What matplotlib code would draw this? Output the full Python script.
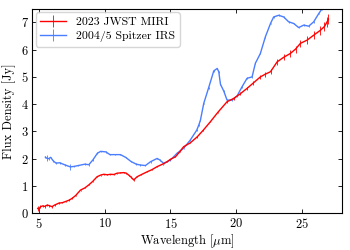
import numpy as np
import matplotlib
matplotlib.use("Agg")
import matplotlib.pyplot as plt

plt.rcParams["font.family"] = "serif"
plt.rcParams["font.serif"] = ["cmr10"]
plt.rcParams["mathtext.fontset"] = "cm"
plt.rcParams["axes.formatter.use_mathtext"] = True
plt.rcParams["font.size"] = 9

# 2023 JWST MIRI spectrum
miri_wl = [4.92, 5.0, 5.13, 5.3, 5.45, 5.64, 5.8, 6.0, 6.2, 6.52, 6.8, 7.03, 7.3,
           7.54, 7.8, 8.17, 8.5, 8.8, 9.1, 9.43, 9.7, 9.94, 10.2, 10.44, 10.7,
           10.95, 11.2, 11.45, 11.65, 11.83, 12.0, 12.21, 12.47, 12.8, 13.23,
           13.6, 13.99, 14.4, 14.75, 15.0, 15.38, 15.7, 16.0, 16.5, 17.03, 17.5,
           18.04, 18.6, 19.3, 19.8, 20.3, 20.82, 21.3, 21.83, 22.2, 22.6, 23.1,
           23.6, 24.11, 24.5, 24.87, 25.38, 25.88, 26.39, 26.7, 26.9, 27.0]
miri_flux = [0.18, 0.14, 0.24, 0.27, 0.25, 0.3, 0.28, 0.24, 0.3, 0.37, 0.39, 0.43,
             0.48, 0.55, 0.65, 0.85, 0.93, 1.04, 1.17, 1.34, 1.4, 1.43, 1.41, 1.43,
             1.42, 1.47, 1.48, 1.49, 1.47, 1.4, 1.33, 1.22, 1.34, 1.42, 1.52, 1.6,
             1.71, 1.8, 1.89, 1.98, 2.07, 2.25, 2.44, 2.58, 2.8, 3.05, 3.36, 3.7,
             4.09, 4.21, 4.38, 4.58, 4.78, 5.0, 5.1, 5.19, 5.55, 5.72, 5.86, 6.02,
             6.23, 6.35, 6.53, 6.71, 6.85, 7.02, 7.12]
miri_err = [0.08, 0.08, 0.06, 0.05, 0.05, 0.04, 0.04, 0.04, 0.03, 0.03, 0.03, 0.03,
            0.03, 0.04, 0.02, 0.02, 0.02, 0.02, 0.02, 0.02, 0.02, 0.02, 0.02, 0.02,
            0.02, 0.02, 0.02, 0.02, 0.02, 0.02, 0.02, 0.02, 0.02, 0.02, 0.02, 0.02,
            0.02, 0.02, 0.02, 0.02, 0.02, 0.02, 0.02, 0.02, 0.03, 0.03, 0.03, 0.03,
            0.04, 0.04, 0.05, 0.06, 0.07, 0.08, 0.09, 0.1, 0.1, 0.11, 0.12, 0.13,
            0.14, 0.15, 0.15, 0.16, 0.17, 0.18, 0.18]

# 2004/5 Spitzer IRS spectrum
irs_wl = [5.5, 5.6, 5.74, 5.9, 6.1, 6.3, 6.6, 7.0, 7.4, 7.7, 8.0, 8.5, 8.8, 9.1,
          9.45, 9.7, 10.1, 10.4, 10.8, 11.2, 11.6, 12.0, 12.4, 12.7, 13.1, 13.49,
          13.99, 14.2, 14.49, 15.0, 15.5, 16.0, 16.5, 17.0, 17.15, 17.28, 17.53,
          17.9, 18.29, 18.55, 18.67, 18.8, 19.05, 19.3, 19.68, 20.06, 20.44,
          20.82, 21.2, 21.45, 21.83, 22.21, 22.6, 22.84, 23.22, 23.6, 23.98,
          24.36, 24.74, 25.12, 25.5, 25.88, 26.26, 26.52, 26.7]
irs_flux = [2.06, 2.02, 2.0, 2.05, 1.92, 1.84, 1.85, 1.77, 1.7, 1.72, 1.75, 1.8,
            1.78, 1.95, 2.2, 2.27, 2.25, 2.15, 2.15, 2.15, 2.05, 1.9, 1.8, 1.77,
            1.75, 1.89, 2.01, 1.95, 1.83, 1.95, 2.2, 2.38, 2.68, 3.05, 3.23, 3.42,
            4.03, 4.6, 5.22, 5.31, 5.19, 4.73, 4.48, 4.15, 4.15, 4.3, 4.64, 4.95,
            5.0, 5.5, 5.86, 6.47, 6.96, 7.2, 7.26, 7.2, 7.02, 6.96, 6.81, 6.9,
            6.86, 7.02, 7.32, 7.5, 7.7]
irs_err = [0.04, 0.1, 0.04, 0.03, 0.03, 0.03, 0.03, 0.03, 0.1, 0.03, 0.03, 0.03,
           0.03, 0.03, 0.03, 0.03, 0.03, 0.03, 0.03, 0.03, 0.03, 0.03, 0.03, 0.03,
           0.03, 0.03, 0.03, 0.03, 0.03, 0.03, 0.03, 0.03, 0.03, 0.03, 0.03, 0.03,
           0.03, 0.03, 0.03, 0.03, 0.03, 0.03, 0.03, 0.03, 0.03, 0.03, 0.03, 0.03,
           0.03, 0.03, 0.03, 0.03, 0.03, 0.03, 0.03, 0.03, 0.03, 0.03, 0.03, 0.03,
           0.03, 0.03, 0.03, 0.03, 0.03]

fig = plt.figure(figsize=(3.5, 2.5), dpi=100)
ax = fig.add_axes([0.092, 0.147, 0.884, 0.818])

ax.errorbar(miri_wl, miri_flux, yerr=miri_err, color="red", lw=1.0,
            elinewidth=0.6, capsize=0, label="2023 JWST MIRI", zorder=3)
ax.errorbar(irs_wl, irs_flux, yerr=irs_err, color="#4a7dff", lw=1.0,
            elinewidth=0.6, capsize=0, label="2004/5 Spitzer IRS", zorder=2)

ax.set_xlim(4.5, 28)
ax.set_ylim(0, 7.5)
ax.set_xticks([5, 10, 15, 20, 25])
ax.set_yticks(np.arange(0, 8))
ax.tick_params(direction="in", top=True, right=True, length=3, width=0.6, pad=2.5)
for s in ax.spines.values():
    s.set_linewidth(0.8)
ax.set_xlabel(r"Wavelength [$\mu$m]", labelpad=1)
ax.set_ylabel("Flux Density [Jy]", labelpad=3)
ax.legend(loc="upper left", fontsize=8.5, handlelength=2.2,
          borderaxespad=0.3, labelspacing=0.3)

fig.savefig("out.png", dpi=100)
